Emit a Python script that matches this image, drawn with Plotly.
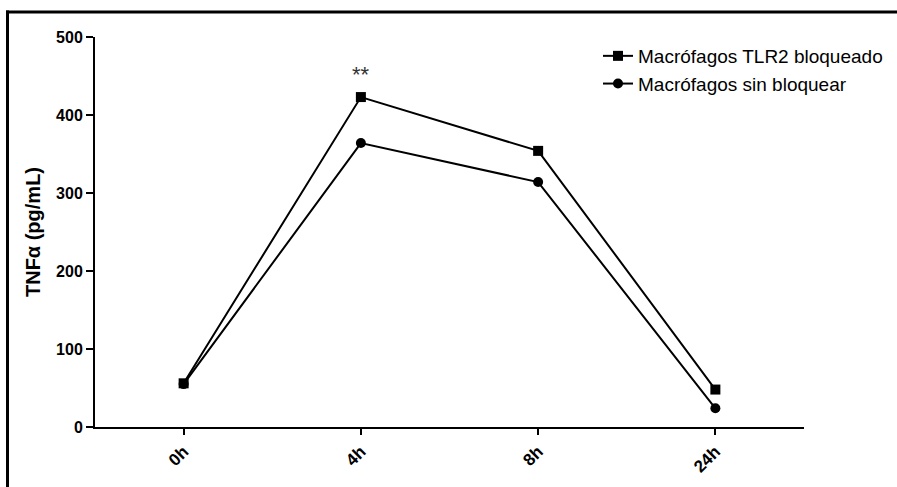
import plotly.graph_objects as go

categories = ["0h", "4h", "8h", "24h"]
tlr2_bloqueado = [56, 423, 354, 48]
sin_bloquear = [55, 364, 314, 24]
y_ticks = [0, 100, 200, 300, 400, 500]

W, H = 897, 487
L, R, T, B = 95, 93, 37, 60
pw, ph = W - L - R, H - T - B

def px(x):
    return (x - L) / pw

def py(y):
    return (H - B - y) / ph

fig = go.Figure()
fig.add_trace(go.Scatter(
    x=categories, y=tlr2_bloqueado, name="Macrófagos TLR2 bloqueado",
    mode="lines+markers", line=dict(color="black", width=2),
    marker=dict(symbol="square", size=10, color="black"),
))
fig.add_trace(go.Scatter(
    x=categories, y=sin_bloquear, name="Macrófagos sin bloquear",
    mode="lines+markers", line=dict(color="black", width=2),
    marker=dict(symbol="circle", size=10, color="black"),
))

fig.add_annotation(x="4h", y=452, text="**", showarrow=False,
                   font=dict(family="Liberation Sans, Arial", size=22, color="#333"))

# frame lines (top and left) of the original figure
fig.add_shape(type="line", xref="paper", yref="paper",
              x0=px(6), x1=px(897), y0=py(12), y1=py(12),
              line=dict(color="black", width=3))
fig.add_shape(type="line", xref="paper", yref="paper",
              x0=px(7.5), x1=px(7.5), y0=py(10.5), y1=py(487),
              line=dict(color="black", width=3))

fig.update_layout(
    width=W, height=H,
    margin=dict(l=L, r=R, t=T, b=B, autoexpand=False),
    plot_bgcolor="white", paper_bgcolor="white",
    font=dict(family="Liberation Sans, Arial", color="black"),
    showlegend=True,
    legend=dict(x=px(598), y=py(37), xanchor="left", yanchor="top",
                font=dict(size=19, color="black"), bgcolor="rgba(0,0,0,0)",
                tracegroupgap=0, itemwidth=30),
    xaxis=dict(range=[-0.5, 3.5], showline=True, linecolor="black", linewidth=2,
               ticks="outside", ticklen=6, tickwidth=2, tickcolor="black",
               tickangle=-45, showgrid=False, zeroline=False,
               tickfont=dict(size=17, weight="bold")),
    yaxis=dict(range=[0, 500], tickvals=y_ticks, showline=True, linecolor="black",
               linewidth=2, ticks="outside", ticklen=7, tickwidth=2, tickcolor="black",
               showgrid=False, zeroline=False,
               tickfont=dict(size=16, weight="bold"),
               title=dict(text="<b>TNFα (pg/mL)</b>", font=dict(size=20), standoff=10)),
)

fig.write_html("out.html", config={"displayModeBar": False},
               post_script="document.body.style.margin='0';")
